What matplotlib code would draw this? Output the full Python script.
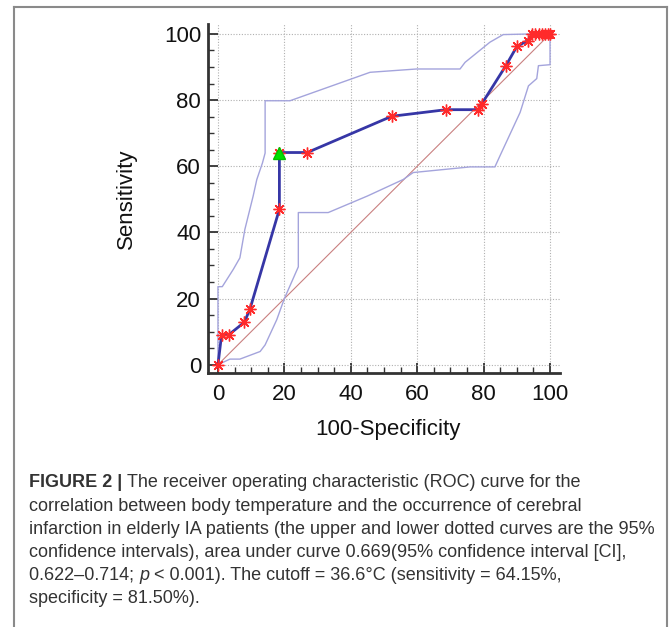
import matplotlib
matplotlib.use('Agg')
import matplotlib.pyplot as plt
from matplotlib.lines import Line2D
from matplotlib.ticker import MultipleLocator

# ROC curve (100-specificity vs sensitivity)
roc_x = [0, 1.1, 3.3, 7.9, 9.6, 18.5, 18.5, 26.9, 52.3, 68.7, 78.4, 79.4, 86.7, 90.0, 93.3,
         94.6, 95.6, 96.6, 97.6, 98.6, 99.4, 100]
roc_y = [0, 9.1, 9.1, 12.8, 16.7, 47.0, 64.15, 64.15, 75.1, 77.1, 77.1, 78.8, 90.4, 96.2, 98.0,
         100, 100, 100, 100, 100, 100, 100]

# 95% confidence bounds
upper_x = [0, 0, 1.3, 4.6, 6.6, 8.1, 10.6, 11.7, 13.4, 14.2, 14.2, 21.7, 45.8, 59.8, 72.9,
           74.4, 81.9, 85.9, 94.5, 100]
upper_y = [0, 23.6, 23.6, 28.8, 32.3, 40.9, 51, 56, 61, 64, 79.8, 79.8, 88.4, 89.4, 89.4,
           91.4, 97.5, 99.8, 100, 100]
lower_x = [0, 3.6, 6.6, 12.7, 14.2, 17.7, 20, 24.2, 24.2, 33.2, 45, 55.8, 58.8, 75.9, 83.4,
           84.9, 91, 93.5, 96, 96.5, 100, 100]
lower_y = [0, 1.7, 1.7, 4, 6, 13.6, 20, 29.6, 46, 46, 51, 56, 58.1, 59.8, 59.8,
           63.1, 76.3, 84.3, 86.5, 90.4, 90.7, 100]

cutoff = (18.5, 64.15)

caption = [
    [("FIGURE 2 | ", "bold"), ("The receiver operating characteristic (ROC) curve for the", "normal")],
    [("correlation between body temperature and the occurrence of cerebral", "normal")],
    [("infarction in elderly IA patients (the upper and lower dotted curves are the 95%", "normal")],
    [("confidence intervals), area under curve 0.669(95% confidence interval [CI],", "normal")],
    [("0.622\u20130.714; ", "normal"), ("p", "italic"), (" < 0.001). The cutoff = 36.6\u00b0C (sensitivity = 64.15%,", "normal")],
    [("specificity = 81.50%).", "normal")],
]

W, H = 672, 627
fig = plt.figure(figsize=(W / 100, H / 100), dpi=100)
ax = fig.add_axes([208 / W, 1 - 373 / H, 352 / W, 349 / H])

ax.plot([0, 100], [0, 100], color='#c98080', lw=0.8, zorder=2)
ax.plot(upper_x, upper_y, color='#a4a4dc', lw=1.0, zorder=2)
ax.plot(lower_x, lower_y, color='#a4a4dc', lw=1.0, zorder=2)
ax.plot(roc_x, roc_y, color='#3636a6', lw=2.0, zorder=3)
ax.plot(roc_x, roc_y, ls='none', marker=(8, 2, 0), ms=8.5, mec='#ff2a2a', mew=1.0, zorder=4)
ax.plot(*cutoff, marker='^', ms=8, color='#00e000', mec='#00c000', ls='none', zorder=5)

ax.set_xlim(-3, 103)
ax.set_ylim(-2.5, 103)
ax.xaxis.set_major_locator(MultipleLocator(20))
ax.yaxis.set_major_locator(MultipleLocator(20))
ax.xaxis.set_minor_locator(MultipleLocator(5))
ax.yaxis.set_minor_locator(MultipleLocator(5))
ax.grid(True, which='major', color='#b0b0b0', lw=0.8, ls=(0, (1, 1.5)), zorder=1)

for s in ['top', 'right']:
    ax.spines[s].set_visible(False)
for s in ['left', 'bottom']:
    ax.spines[s].set_linewidth(2)
    ax.spines[s].set_color('#333333')

ax.tick_params(which='major', direction='in', length=7, width=1.3, color='#333333',
               labelsize=16, labelcolor='#111111', labelfontfamily='Liberation Sans')
ax.tick_params(which='minor', direction='in', length=4, width=1.0, color='#333333')
ax.tick_params(axis='x', pad=8)
ax.tick_params(axis='y', pad=5)

fig.text(126 / W, 1 - 199 / H, 'Sensitivity', rotation=90, ha='center', va='center',
         fontsize=16, family='Liberation Sans', color='#111111')
fig.text(388 / W, 1 - 429 / H, '100-Specificity', ha='center', va='center',
         fontsize=16, family='Liberation Sans', color='#111111')

# frame around figure (open at the bottom)
frame = dict(color='#8a8a8a', lw=1.5, transform=fig.transFigure)
fig.add_artist(Line2D([14 / W, 667 / W], [1 - 7 / H, 1 - 7 / H], **frame))
fig.add_artist(Line2D([14 / W, 14 / W], [0, 1 - 7 / H], **frame))
fig.add_artist(Line2D([667 / W, 667 / W], [0, 1 - 7 / H], **frame))

# caption, drawn piece by piece so bold/italic runs sit inline
renderer = fig.canvas.get_renderer()
baselines = [487, 511, 534, 557, 580, 603]
for pieces, base in zip(caption, baselines):
    x = 29
    for txt, style in pieces:
        t = fig.text(x / W, 1 - base / H, txt, va='baseline', ha='left', fontsize=13,
                     family='Liberation Sans', color='#333333',
                     fontweight='bold' if style == 'bold' else 'normal',
                     fontstyle='italic' if style == 'italic' else 'normal')
        bb = t.get_window_extent(renderer)
        x += bb.width

fig.savefig('out.png', dpi=100)
